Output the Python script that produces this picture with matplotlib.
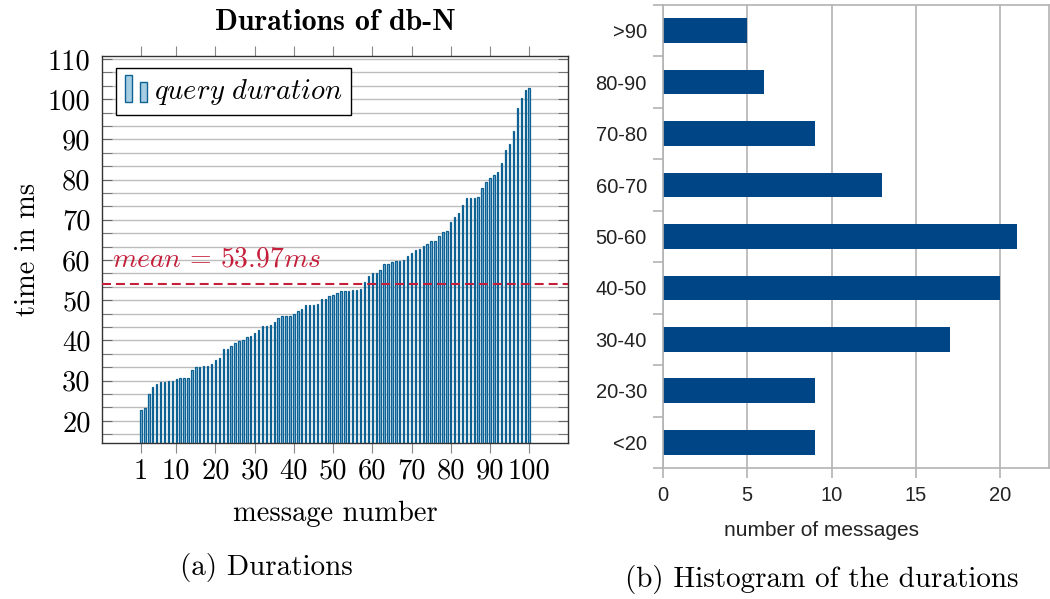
import matplotlib
matplotlib.use('Agg')
import numpy as np
import matplotlib.pyplot as plt
from matplotlib.patches import Rectangle
from matplotlib.legend_handler import HandlerBase
from matplotlib.ticker import MultipleLocator

# sorted query durations (ms) of the 100 messages
durations = [22.7, 23.2, 26.8, 28.5, 29.1, 29.6, 29.6, 29.9, 30.0, 30.3,
             30.6, 30.6, 30.7, 32.6, 33.3, 33.4, 33.7, 33.7, 34.1, 35.1,
             35.7, 37.8, 38.0, 38.5, 39.4, 39.9, 40.1, 40.9, 41.0, 41.8,
             42.5, 43.5, 43.7, 43.9, 44.7, 45.5, 46.1, 46.2, 46.2, 46.7,
             47.3, 47.9, 48.7, 48.8, 48.9, 49.1, 50.3, 50.4, 51.0, 51.2,
             51.9, 52.2, 52.3, 52.4, 52.5, 52.6, 52.9, 54.5, 56.0, 56.7,
             56.8, 57.5, 58.9, 58.9, 59.6, 59.8, 59.8, 60.1, 60.9, 61.7,
             62.6, 62.7, 63.6, 63.9, 64.7, 64.7, 66.0, 67.0, 67.2, 69.4,
             70.6, 71.6, 73.6, 75.3, 75.3, 75.4, 75.7, 77.8, 79.5, 80.3,
             81.2, 81.9, 84.1, 87.3, 88.9, 92.1, 97.7, 100.2, 102.3, 102.7]
message_numbers = list(range(1, 101))
mean_duration = 53.97
x_ticks = [1, 10, 20, 30, 40, 50, 60, 70, 80, 90, 100]
y_ticks = [20, 30, 40, 50, 60, 70, 80, 90, 100, 110]

hist_bins = ['<20', '20-30', '30-40', '40-50', '50-60', '60-70', '70-80', '80-90', '>90']
hist_counts = [9, 9, 17, 20, 21, 13, 9, 6, 5]
hist_ticks = [0, 5, 10, 15, 20]

plt.rcParams['font.family'] = ['cmr10']
plt.rcParams['mathtext.fontset'] = 'cm'
plt.rcParams['axes.formatter.use_mathtext'] = True

fs = 20.5
bar_edge = '#0d6293'
bar_fill = '#7db5d6'
leg_fill = '#a6cee3'
red = '#c41e3a'


class TwoBarHandler(HandlerBase):
    # pgfplots style ybar legend image: two little bars
    def create_artists(self, legend, orig_handle, xdescent, ydescent,
                       width, height, fontsize, trans):
        x0 = -xdescent
        y0 = -ydescent - 0.15 * height
        r1 = Rectangle((x0 + 0.02 * width, y0), 0.3 * width, 1.35 * height,
                       fc=leg_fill, ec=bar_edge, lw=1.0, transform=trans)
        r2 = Rectangle((x0 + 0.62 * width, y0), 0.3 * width, 1.0 * height,
                       fc=leg_fill, ec=bar_edge, lw=1.0, transform=trans)
        return [r1, r2]


fig = plt.figure(figsize=(10.5, 5.99), dpi=100)

# ---- (a) durations ----
ax = fig.add_axes([0.0969, 0.2604, 0.4444, 0.6466])
ax.bar(message_numbers, durations, width=0.36, color=bar_fill,
       edgecolor=bar_edge, linewidth=0.9, zorder=2)
ax.axhline(mean_duration, color=red, ls=(0, (4.3, 2.4)), lw=1.5, zorder=3)
ax.text(-6.5, 58.4, r'$mean\,=\,%.2fms$' % mean_duration, color=red,
        fontsize=20, ha='left', va='baseline', zorder=4)

ax.set_xlim(-9, 110)
ax.set_ylim(14.5, 110.8)
ax.set_xticks(x_ticks, [str(t) for t in x_ticks])
ax.set_yticks(y_ticks, [str(t) for t in y_ticks])
ax.yaxis.set_minor_locator(MultipleLocator(10 / 3))
ax.set_axisbelow(True)
ax.grid(axis='y', which='both', color='#bdbdbd', lw=1.0)
ax.tick_params(axis='y', which='both', direction='in', left=True, right=True,
               length=7, color='#666666', labelsize=fs, pad=8)
ax.tick_params(axis='x', which='major', direction='out', top=True, bottom=True,
               length=7, color='#888888', labelsize=fs, pad=4)
for s in ax.spines.values():
    s.set_color('#333333')
    s.set_linewidth(1.0)

ax.set_title('Durations of db-N', fontfamily='cmb10', fontsize=21.5,
             y=1.087, va='center', pad=0)
ax.set_xlabel('message number', fontsize=fs)
ax.xaxis.set_label_coords(0.5, -0.183)
ax.xaxis.label.set_va('center')
ax.set_ylabel('time in ms', fontsize=fs)
ax.yaxis.set_label_coords(-0.158, 0.5)
ax.yaxis.label.set_va('center')

proxy = Rectangle((0, 0), 1, 1, fc=leg_fill, ec=bar_edge)
leg = ax.legend([proxy], [r'$query\ duration$'], handler_map={Rectangle: TwoBarHandler()},
                loc='upper left', bbox_to_anchor=(0.0306, 0.9675), borderaxespad=0,
                fontsize=fs, fancybox=False, framealpha=1, edgecolor='black',
                handlelength=0.85, handletextpad=0.2, borderpad=0.3)
leg.get_frame().set_linewidth(1.0)

fig.text(266 / 1050, 1 - 568 / 599, '(a) Durations', ha='center', va='center', fontsize=21)

# ---- (b) histogram ----
ax2 = fig.add_axes([0.6314, 0.2187, 0.3676, 0.773])
pos = np.arange(len(hist_bins))
ax2.barh(pos, hist_counts, height=0.48, color='#004586', zorder=2)
ax2.set_xlim(0, 22.9)
ax2.set_ylim(-0.5, 8.5)
ax2.set_xticks(hist_ticks, [str(t) for t in hist_ticks])
ax2.set_yticks(pos, hist_bins)
ax2.set_yticks(np.arange(-0.5, len(hist_bins)), minor=True)
ax2.set_axisbelow(True)
ax2.grid(axis='x', color='#b3b3b3', lw=1.2)
ax2.tick_params(axis='y', which='major', length=0, pad=11.5)
ax2.tick_params(axis='y', which='minor', length=7, width=1.2, color='#b3b3b3', direction='out')
ax2.tick_params(axis='x', length=7, width=1.2, color='#b3b3b3', direction='out', pad=6)
for lab in ax2.get_xticklabels() + ax2.get_yticklabels():
    lab.set_fontfamily('Liberation Sans')
    lab.set_fontsize(14.5)
    lab.set_color('#222222')
for s in ax2.spines.values():
    s.set_color('#b3b3b3')
    s.set_linewidth(1.2)
ax2.set_xlabel('number of messages', fontfamily='Liberation Sans', fontsize=15, color='#222222')
ax2.xaxis.set_label_coords(0.412, -0.135)
ax2.xaxis.label.set_va('center')

fig.text(822 / 1050, 1 - 580 / 599, '(b) Histogram of the durations',
         ha='center', va='center', fontsize=21)

fig.savefig('out.png', dpi=100)
